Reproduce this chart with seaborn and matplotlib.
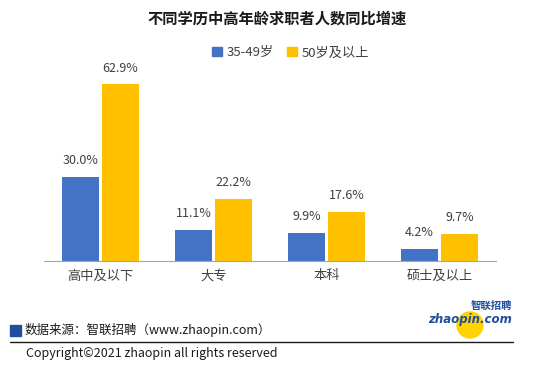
import matplotlib
matplotlib.use("Agg")
import matplotlib.pyplot as plt
import matplotlib.patches as mpatches
import pandas as pd
import seaborn as sns

# data
categories = ["高中及以下", "大专", "本科", "硕士及以上"]
series_names = ["35-49岁", "50岁及以上"]
growth_35_49 = [30.0, 11.1, 9.9, 4.2]
growth_50_up = [62.9, 22.2, 17.6, 9.7]
colors = ["#4472C4", "#FFC000"]

df = pd.DataFrame({
    "edu": categories * 2,
    "group": [series_names[0]] * 4 + [series_names[1]] * 4,
    "value": growth_35_49 + growth_50_up,
})

sns.set_style("white")
plt.rcParams["font.family"] = ["Noto Sans CJK SC", "DejaVu Sans"]

fig = plt.figure(figsize=(5.54, 3.70), dpi=100)
ax = fig.add_axes([0.0794, 0.2946, 0.8159, 0.531])

sns.barplot(data=df, x="edu", y="value", hue="group", palette=colors,
            width=0.71, gap=0.08, order=categories, hue_order=series_names,
            ax=ax, legend=False, saturation=1, linewidth=0)

for cont in ax.containers:
    ax.bar_label(cont, fmt="%.1f%%", padding=7, fontsize=9, color="#404040")

ax.set_ylim(0, 70)
ax.set_xlim(-0.5, 3.5)
ax.set_xlabel("")
ax.set_ylabel("")
ax.set_yticks([])
for s in ["top", "left", "right"]:
    ax.spines[s].set_visible(False)
ax.spines["bottom"].set_color("#A6A6A6")
ax.tick_params(axis="x", which="major", length=0, labelsize=9.5,
               labelcolor="#404040", pad=6)
ax.set_xticks([-0.5, 0.5, 1.5, 2.5, 3.5], minor=True)
ax.tick_params(axis="x", which="minor", length=5, color="#A6A6A6")

fig.text(0.5, 0.951, "不同学历中高年龄求职者人数同比增速", ha="center", va="center",
         fontsize=11, fontweight="bold", color="#1a1a1a")

handles = [mpatches.Patch(color=c, label=n) for c, n in zip(colors, series_names)]
fig.legend(handles=handles, loc="center", bbox_to_anchor=(0.525, 0.857), ncol=2,
           frameon=False, fontsize=9.5, handlelength=0.7, handleheight=0.7,
           handletextpad=0.4, columnspacing=1.0, labelcolor="#404040")

# footer
fig.patches.append(mpatches.Rectangle((10 / 554, 1 - 336 / 370), 11 / 554, 11 / 370,
                                      transform=fig.transFigure, color="#1F4E9C"))
fig.text(25 / 554, 1 - 330 / 370, "数据来源：智联招聘（www.zhaopin.com）",
         ha="left", va="center", fontsize=9, color="#1a1a1a")
fig.add_artist(plt.Line2D([10 / 554, 513 / 554], [1 - 342 / 370, 1 - 342 / 370],
                          transform=fig.transFigure, color="#1a1a1a", lw=1))
fig.text(26 / 554, 1 - 353 / 370, "Copyright©2021 zhaopin all rights reserved",
         ha="left", va="center", fontsize=9, color="#1a1a1a")

# logo
fig.patches.append(mpatches.Ellipse((470 / 554, 1 - 325 / 370), 26 / 554, 26 / 370,
                                    transform=fig.transFigure, color="#FFD200",
                                    zorder=1))
fig.text(512 / 554, 1 - 306 / 370, "智联招聘", ha="right", va="center",
         fontsize=7.5, color="#1F4E9C", fontweight="bold", style="italic", zorder=3)
fig.text(512 / 554, 1 - 320 / 370, "zhaopin.com", ha="right", va="center",
         fontsize=8.5, color="#1F4E9C", fontweight="bold", style="italic", zorder=3,
         family="DejaVu Sans")

fig.savefig("out.png", dpi=100)
